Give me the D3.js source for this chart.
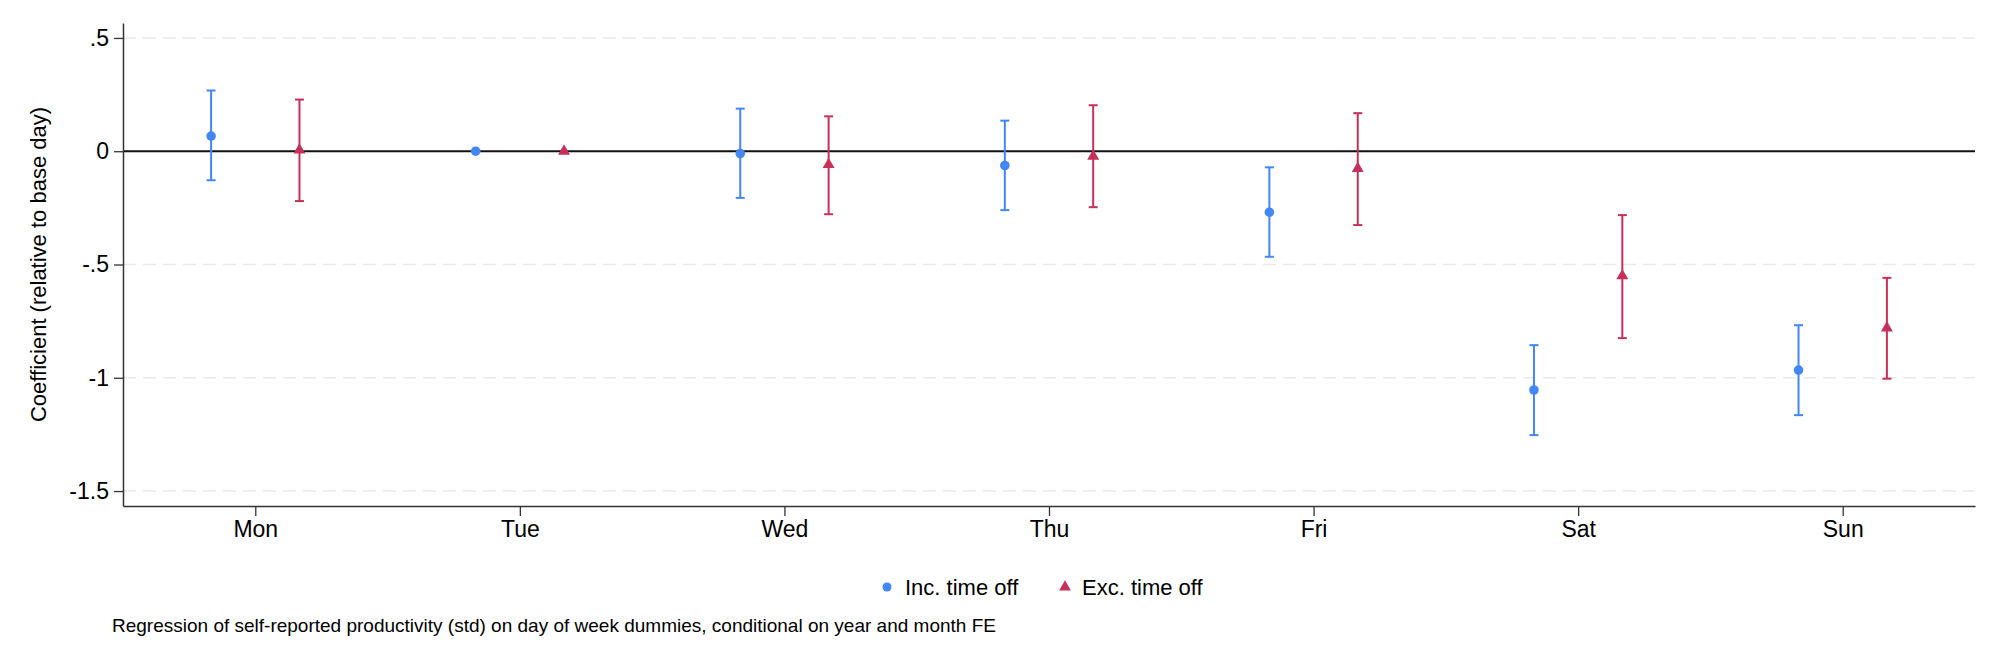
<!DOCTYPE html>
<html>
<head>
<meta charset="utf-8">
<script src="https://cdn.jsdelivr.net/npm/d3@7"></script>
<style>
    body { margin: 0; background: white; }
    svg { display: block; font-family: "Liberation Sans", Arial, Helvetica, sans-serif; }
</style>
</head>
<body>
<div id="chart"></div>
<script>
"use strict"

const days = ["Mon", "Tue", "Wed", "Thu", "Fri", "Sat", "Sun"];
const yTicks = [0.5, 0, -0.5, -1, -1.5];
const yTickLabels = [".5", "0", "-.5", "-1", "-1.5"];

const incCoef = [0.067, 0, -0.010, -0.063, -0.269, -1.054, -0.966];
const incLow = [-0.128, 0, -0.206, -0.260, -0.466, -1.253, -1.165];
const incHigh = [0.268, 0, 0.188, 0.135, -0.071, -0.856, -0.768];

const excCoef = [0.005, 0, -0.059, -0.022, -0.076, -0.550, -0.780];
const excLow = [-0.220, 0, -0.278, -0.247, -0.326, -0.825, -1.004];
const excHigh = [0.228, 0, 0.154, 0.203, 0.168, -0.282, -0.559];

const seriesNames = ["Inc. time off", "Exc. time off"];
const blue = "#4287f5";
const red = "#c6305a";

const width = 1999;
const height = 666;
const plotLeft = 123;
const plotRight = 1975;
const plotTop = 23;
const plotBottom = 506;
const seriesShift = 0.167;
const capHalf = 4.5;

const svg = d3.select("#chart")
    .append("svg")
        .attr("width", width)
        .attr("height", height);

const x = d3.scaleLinear()
    .domain([0.5, days.length + 0.5])
    .range([plotLeft, plotRight]);

const y = d3.scaleLinear()
    .domain([-1.566, 0.566])
    .range([plotBottom, plotTop]);


function DrawGrid()
{
    svg.selectAll(".grid")
    .data(yTicks.filter(t => t != 0))
    .enter()
    .append("line")
        .attr("class", "grid")
        .attr("x1", plotLeft)
        .attr("x2", plotRight)
        .attr("y1", d => y(d))
        .attr("y2", d => y(d))
        .attr("stroke", "#e9e9e9")
        .attr("stroke-width", 1.6)
        .attr("stroke-dasharray", "13,7");

    svg.append("line")
        .attr("x1", plotLeft)
        .attr("x2", plotRight)
        .attr("y1", y(0))
        .attr("y2", y(0))
        .attr("stroke", "#111")
        .attr("stroke-width", 2);
}


function DrawAxes()
{
    const yAxis = d3.axisLeft(y)
        .tickValues(yTicks)
        .tickFormat((d, i) => yTickLabels[i])
        .tickSize(9)
        .tickPadding(5)
        .tickSizeOuter(0);

    const yGroup = svg.append("g")
        .attr("transform", `translate(${plotLeft},0)`)
        .call(yAxis);

    const xAxis = d3.axisBottom(x)
        .tickValues(days.map((_, i) => i + 1))
        .tickFormat((d, i) => days[i])
        .tickSize(10)
        .tickPadding(5)
        .tickSizeOuter(0);

    const xGroup = svg.append("g")
        .attr("transform", `translate(0,${plotBottom})`)
        .call(xAxis);

    [yGroup, xGroup].forEach(g => {
        g.select(".domain").attr("stroke", "#333").attr("stroke-width", 1.5);
        g.selectAll(".tick line").attr("stroke", "#333").attr("stroke-width", 1.3);
        g.selectAll(".tick text")
            .attr("font-size", "23px")
            .attr("font-family", "Liberation Sans, Arial, sans-serif")
            .attr("fill", "#000");
    });

    svg.append("text")
        .attr("transform", `translate(46,${(plotTop + plotBottom) / 2}) rotate(-90)`)
        .attr("text-anchor", "middle")
        .attr("font-size", "22px")
        .text("Coefficient (relative to base day)");
}


function DrawSeries(coef, low, high, shift, color, symbol, size)
{
    const rows = coef.map((c, i) => ({ pos: i + 1 + shift, c: c, lo: low[i], hi: high[i] }));
    const bars = rows.filter(d => d.lo != d.hi);

    svg.selectAll(null)
    .data(bars)
    .enter()
    .append("line")
        .attr("x1", d => x(d.pos))
        .attr("x2", d => x(d.pos))
        .attr("y1", d => y(d.lo))
        .attr("y2", d => y(d.hi))
        .attr("stroke", color)
        .attr("stroke-width", 2);

    ["lo", "hi"].forEach(key => {
        svg.selectAll(null)
        .data(bars)
        .enter()
        .append("line")
            .attr("x1", d => x(d.pos) - capHalf)
            .attr("x2", d => x(d.pos) + capHalf)
            .attr("y1", d => y(d[key]))
            .attr("y2", d => y(d[key]))
            .attr("stroke", color)
            .attr("stroke-width", 2);
    });

    svg.selectAll(null)
    .data(rows)
    .enter()
    .append("path")
        .attr("d", d3.symbol().type(symbol).size(size))
        .attr("transform", d => `translate(${x(d.pos)},${y(d.c)})`)
        .attr("fill", color);
}


function DrawLegend()
{
    const items = [
        { name: seriesNames[0], color: blue, symbol: d3.symbolCircle, size: 64, sx: 887, tx: 905 },
        { name: seriesNames[1], color: red, symbol: d3.symbolTriangle, size: 60, sx: 1065, tx: 1082 }
    ];

    const legendY = 587;

    items.forEach(item => {
        svg.append("path")
            .attr("d", d3.symbol().type(item.symbol).size(item.size))
            .attr("transform", `translate(${item.sx},${legendY})`)
            .attr("fill", item.color);

        svg.append("text")
            .attr("x", item.tx)
            .attr("y", legendY + 8)
            .attr("font-size", "22px")
            .text(item.name);
    });

    svg.append("text")
        .attr("x", 112)
        .attr("y", 632)
        .attr("font-size", "19px")
        .text("Regression of self-reported productivity (std) on day of week dummies, conditional on year and month FE");
}


DrawGrid();
DrawAxes();
DrawSeries(incCoef, incLow, incHigh, -seriesShift, blue, d3.symbolCircle, 72);
DrawSeries(excCoef, excLow, excHigh, seriesShift, red, d3.symbolTriangle, 62);
DrawLegend();
</script>
</body>
</html>
